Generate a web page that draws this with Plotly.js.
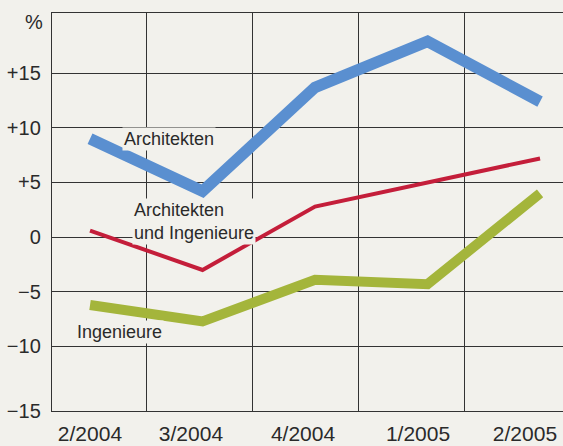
<!DOCTYPE html>
<html>
<head>
<meta charset="utf-8">
<script src="https://cdn.plot.ly/plotly-3.0.1.min.js"></script>
<style>html,body{margin:0;padding:0;background:#f2f1ec;}#chart{width:563px;height:446px;}</style>
</head>
<body>
<div id="chart"></div>
<script>
// ---- data ----
var categories = ["2/2004", "3/2004", "4/2004", "1/2005", "2/2005"];
var architekten = [9.0, 4.2, 13.7, 17.9, 12.4];
var archUndIng = [0.6, -3.0, 2.8, 5.0, 7.2];
var ingenieure = [-6.2, -7.7, -3.9, -4.3, 4.0];
var yTickValues = [-10, -5, 0, 5, 10, 15];
var yTickText = ["\u221210", "\u22125", "0", "+5", "+10", "+15"];
var seriesNames = ["Architekten", "Architekten<br>und Ingenieure", "Ingenieure"];

// ---- styles / layout ----
var paper = "#f2f1ec";
var ink = "#333333";
var font = "Liberation Sans, Arial, sans-serif";
var idx = categories.map(function (c, i) { return i; });

var traces = [
  {x: idx, y: architekten, mode: "lines", line: {color: "#5a8fd0", width: 11.5}, hoverinfo: "skip"},
  {x: idx, y: archUndIng, mode: "lines", line: {color: "#c41e3a", width: 4}, hoverinfo: "skip"},
  {x: idx, y: ingenieure, mode: "lines", line: {color: "#a4b53b", width: 10}, hoverinfo: "skip"},
  {x: [], y: [], xaxis: "x2", yaxis: "y", mode: "lines", hoverinfo: "skip"}
];

var bottomVal = -15.9;
var layout = {
  width: 563, height: 446,
  paper_bgcolor: paper, plot_bgcolor: paper,
  showlegend: false,
  margin: {l: 52, r: 0, t: 13, b: 35},
  font: {family: font, size: 20, color: "#2a2a2a"},
  xaxis: {
    type: "linear", range: [-0.338, 4.204],
    showgrid: false, zeroline: false, showticklabels: false,
    showline: true, linecolor: ink, linewidth: 1.2, mirror: true, ticks: ""
  },
  xaxis2: {
    type: "linear", overlaying: "x", side: "bottom", range: [0.104, 4.925],
    tickmode: "array", tickvals: [0.462, 1.415, 2.472, 3.557, 4.566], ticktext: categories,
    tickfont: {size: 21},
    showgrid: false, zeroline: false, showline: false, ticks: "",
    ticklabelstandoff: 8,
    minor: {tickmode: "array", tickvals: [1, 2, 3, 4], showgrid: true, gridcolor: ink, gridwidth: 1, ticks: ""}
  },
  yaxis: {
    range: [bottomVal, 20.5],
    tickmode: "array",
    tickvals: [bottomVal].concat(yTickValues),
    ticktext: ["\u221215"].concat(yTickText),
    showgrid: true, gridcolor: ink, gridwidth: 1, zeroline: false,
    showline: true, linecolor: ink, linewidth: 1.2, ticks: "",
    ticklabelstandoff: 6
  },
  annotations: [
    {text: "%", xref: "paper", x: 0, xanchor: "right", xshift: -7, yref: "y", y: 19.67, yanchor: "middle",
     showarrow: false, font: {size: 20, family: font, color: "#2a2a2a"}},
    {text: seriesNames[0], x: 0.284, y: 8.96, xanchor: "left", yanchor: "middle", showarrow: false,
     bgcolor: paper, borderpad: 1, font: {size: 18, family: font, color: "#2a2a2a"}},
    {text: seriesNames[1], x: 0.373, y: 1.46, xanchor: "left", yanchor: "middle", align: "left", showarrow: false,
     bgcolor: paper, borderpad: 1, font: {size: 18, family: font, color: "#2a2a2a"}},
    {text: seriesNames[2], x: -0.133, y: -8.7, xanchor: "left", yanchor: "middle", showarrow: false,
     bgcolor: paper, borderpad: 1, font: {size: 18, family: font, color: "#2a2a2a"}}
  ]
};

Plotly.newPlot("chart", traces, layout, {staticPlot: true, displayModeBar: false});
</script>
</body>
</html>
